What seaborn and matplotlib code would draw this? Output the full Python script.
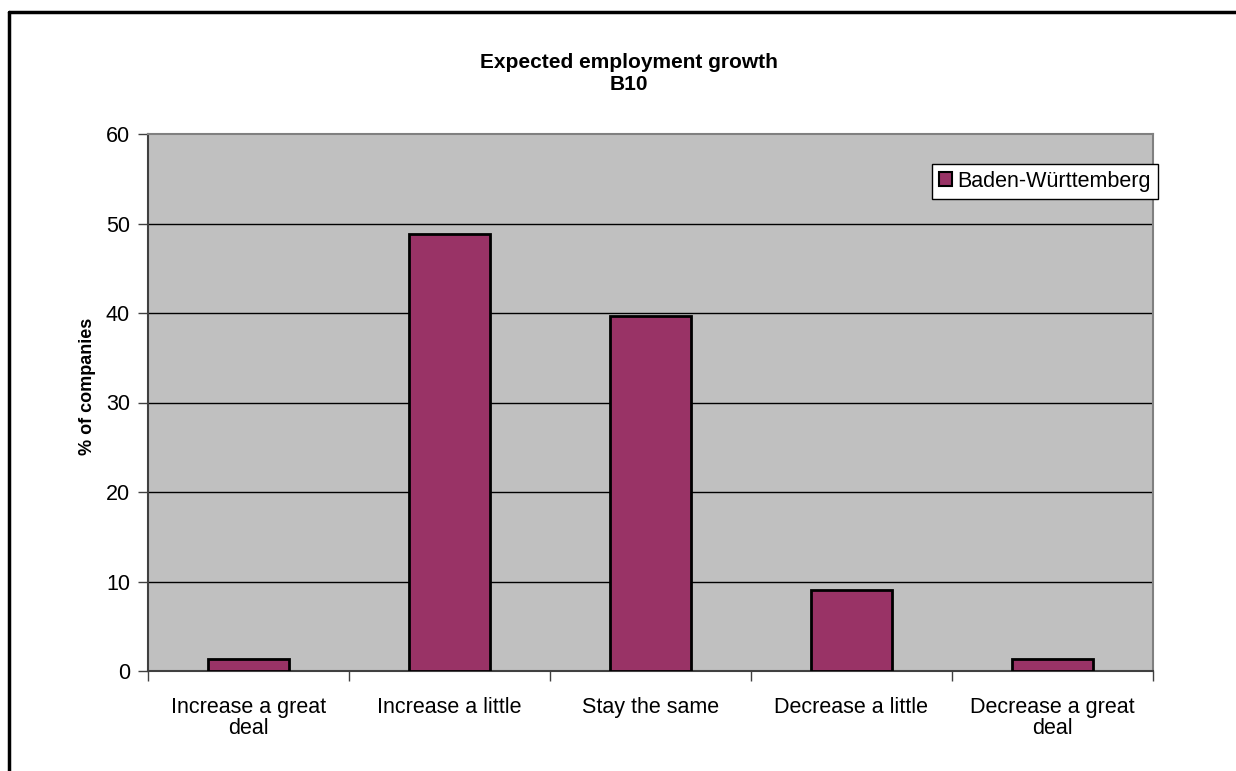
import matplotlib
matplotlib.use("Agg")
import matplotlib.pyplot as plt
import seaborn as sns
import pandas as pd
from matplotlib.patches import Patch
from matplotlib.lines import Line2D

categories = ["Increase a great\ndeal", "Increase a little", "Stay the same",
              "Decrease a little", "Decrease a great\ndeal"]
values = [1.3, 48.8, 39.7, 9.0, 1.3]
series_name = "Baden-Württemberg"
title = "Expected employment growth\nB10"
ylabel = "% of companies"
yticks = [0, 10, 20, 30, 40, 50, 60]

sns.set_theme(style="white")
plt.rcParams["font.family"] = ["Liberation Sans", "DejaVu Sans"]
plt.rcParams["text.color"] = "black"
plt.rcParams["axes.labelcolor"] = "black"
plt.rcParams["xtick.color"] = "black"
plt.rcParams["ytick.color"] = "black"

df = pd.DataFrame({"category": categories, "value": values, "region": series_name})

fig = plt.figure(figsize=(12.36, 7.71), dpi=100)
ax = fig.add_axes([148/1236, 1-671/771, (1153-148)/1236, (671-134)/771])
ax.set_facecolor("#C0C0C0")

sns.barplot(data=df, x="category", y="value", hue="region", palette=["#993366"],
            saturation=1, width=0.4, edgecolor="black", linewidth=2, legend=False,
            ax=ax, zorder=3)

ax.set_xlim(-0.5, 4.5)
ax.set_ylim(0, 60)
ax.set_yticks(yticks)
ax.set_yticklabels([str(t) for t in yticks], fontsize=15.5)
for t in yticks[1:-1]:
    ax.axhline(t, color="black", lw=1, zorder=1)

ax.set_xlabel("")
ax.set_ylabel(ylabel, fontsize=13, fontweight="bold")
ax.yaxis.set_label_coords((96-148)/1005, (671-386)/537)
ax.tick_params(axis="x", which="major", length=0, labelsize=15.5, pad=19)
for lab in ax.get_xticklabels():
    lab.set_linespacing(1.0)
ax.set_xticks([i - 0.5 for i in range(6)], minor=True)
ax.tick_params(axis="x", which="minor", length=7, width=1, color="#404040", direction="out")
ax.tick_params(axis="y", length=7, width=1, color="#404040", direction="out", pad=6)
ax.xaxis.set_ticks_position("bottom")
ax.yaxis.set_ticks_position("left")
for s in ax.spines.values():
    s.set_color("#808080")
    s.set_linewidth(1.5)
ax.spines["left"].set_color("#404040")
ax.spines["bottom"].set_color("#404040")

fig.text(629/1236, 1-73.5/771, title, ha="center", va="center", fontsize=15,
         fontweight="bold", linespacing=1.22)

handles = [Patch(facecolor="#993366", edgecolor="black", linewidth=1.5, label=series_name)]
leg = fig.legend(handles=handles, loc="upper left",
                 bbox_to_anchor=(932/1236, 1-164/771), fontsize=15.5, frameon=True,
                 fancybox=False, handlelength=0.6, handleheight=0.6, handletextpad=0.25,
                 borderpad=0.32, borderaxespad=0, facecolor="white", framealpha=1)
leg.get_frame().set_edgecolor("black")
leg.get_frame().set_linewidth(1)

fig.add_artist(Line2D([9/1236, 9/1236], [0, 1-12/771], color="black", lw=2.5,
                      transform=fig.transFigure))
fig.add_artist(Line2D([9/1236, 1], [1-12/771, 1-12/771], color="black", lw=2.5,
                      transform=fig.transFigure))

fig.savefig("out.png", dpi=100, facecolor="white")
